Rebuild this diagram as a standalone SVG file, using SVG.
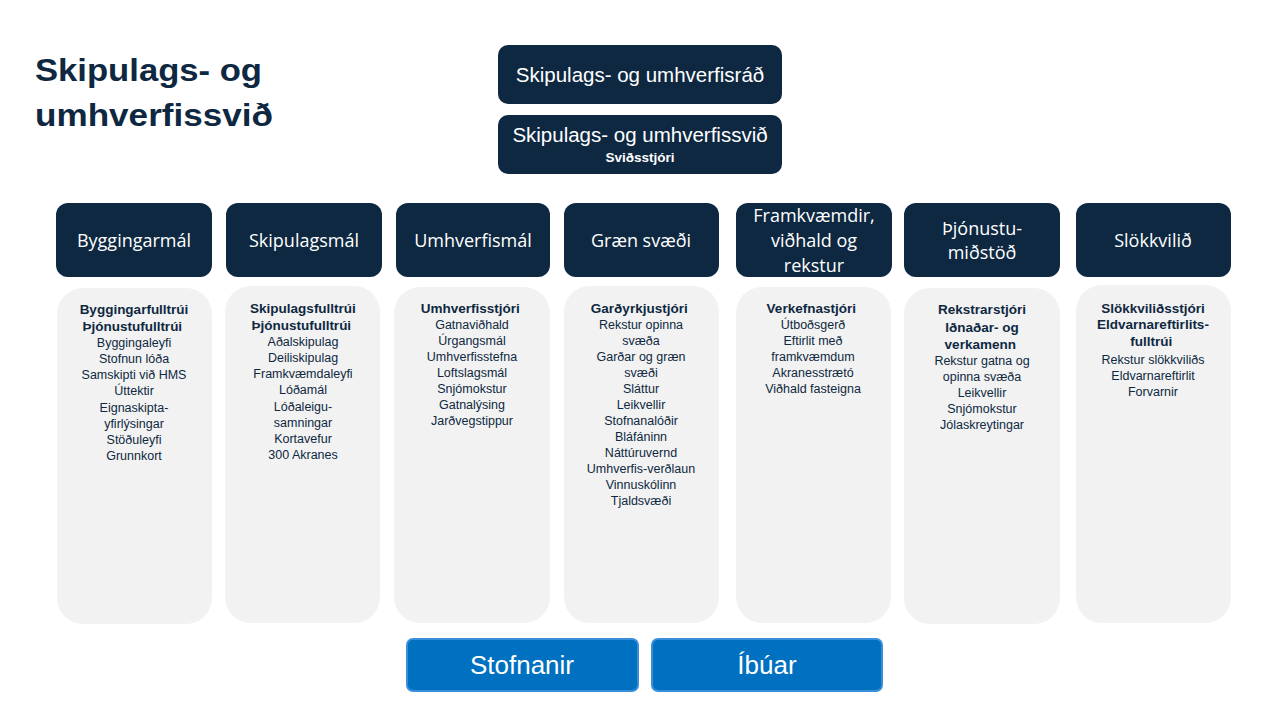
<svg xmlns="http://www.w3.org/2000/svg" width="1280" height="720" viewBox="0 0 1280 720">
<style>
text{font-family:"Liberation Sans",Arial,sans-serif;}
.title{font-size:32px;font-weight:bold;fill:#0E2841;}
.dk{fill:#0E2841;}
.hd{fill:#FFFFFF;font-size:18px;text-anchor:middle;font-family:"Open Sans","Liberation Sans",sans-serif;}
.top{fill:#FFFFFF;font-size:20.5px;text-anchor:middle;}
.gb{fill:#F2F2F2;}
.t{fill:#0E2841;font-size:12.5px;text-anchor:middle;}
.b{font-weight:bold;font-size:13.5px;}
.btn{fill:#0070C0;stroke:#3A8FDA;stroke-width:2;}
.bt{fill:#FFFFFF;font-size:26px;text-anchor:middle;}
</style>
<rect width="1280" height="720" fill="#FFFFFF"/>
<g id="title">
<text class="title" x="35" y="81" textLength="227" lengthAdjust="spacingAndGlyphs">Skipulags- og</text>
<text class="title" x="35" y="126" textLength="238" lengthAdjust="spacingAndGlyphs">umhverfissvið</text>
</g>
<g id="connectors"></g>
<g id="rad">
<rect class="dk" x="498" y="45" width="284" height="59" rx="10"/>
<text class="top" x="640" y="82">Skipulags- og umhverfisráð</text>
</g>
<g id="svid">
<rect class="dk" x="498" y="115" width="284" height="59" rx="10"/>
<text class="top" x="640" y="142">Skipulags- og umhverfissvið</text>
<text x="640" y="162" fill="#FFFFFF" font-size="13.5" font-weight="bold" text-anchor="middle">Sviðsstjóri</text>
</g>
<g id="h1"><rect class="dk" x="56" y="203" width="156" height="74" rx="12"/><text class="hd" x="134" y="247">Byggingarmál</text></g>
<g id="h2"><rect class="dk" x="226" y="203" width="156" height="74" rx="12"/><text class="hd" x="304" y="247">Skipulagsmál</text></g>
<g id="h3"><rect class="dk" x="396" y="203" width="154" height="74" rx="12"/><text class="hd" x="473" y="247">Umhverfismál</text></g>
<g id="h4"><rect class="dk" x="564" y="203" width="155" height="74" rx="12"/><text class="hd" x="641" y="247">Græn svæði</text></g>
<g id="h5"><rect class="dk" x="736" y="203" width="156" height="74" rx="12"/>
<text class="hd" x="814" y="222">Framkvæmdir,</text><text class="hd" x="814" y="247">viðhald og</text><text class="hd" x="814" y="272">rekstur</text></g>
<g id="h6"><rect class="dk" x="904" y="203" width="156" height="74" rx="12"/>
<text class="hd" x="982" y="235">Þjónustu-</text><text class="hd" x="982" y="259">miðstöð</text></g>
<g id="h7"><rect class="dk" x="1076" y="203" width="155" height="74" rx="12"/><text class="hd" x="1153" y="247">Slökkvilið</text></g>

<g id="c1"><rect class="gb" x="57" y="288" width="155" height="336" rx="26"/>
<text class="t"><tspan class="b" x="134" y="314">Byggingarfulltrúi</tspan><tspan class="b" x="134" y="331">Þjónustufulltrúi</tspan>
<tspan x="134" y="347">Byggingaleyfi</tspan><tspan x="134" y="363">Stofnun lóða</tspan><tspan x="134" y="379">Samskipti við HMS</tspan><tspan x="134" y="395">Úttektir</tspan><tspan x="134" y="412">Eignaskipta-</tspan><tspan x="134" y="428">yfirlýsingar</tspan><tspan x="134" y="444">Stöðuleyfi</tspan><tspan x="134" y="460">Grunnkort</tspan></text></g>

<g id="c2"><rect class="gb" x="225" y="286" width="155" height="337" rx="26"/>
<text class="t"><tspan class="b" x="303" y="313">Skipulagsfulltrúi</tspan><tspan class="b" x="303" y="330">Þjónustufulltrúi</tspan>
<tspan x="303" y="346">Aðalskipulag</tspan><tspan x="303" y="362">Deiliskipulag</tspan><tspan x="303" y="378">Framkvæmdaleyfi</tspan><tspan x="303" y="394">Lóðamál</tspan><tspan x="303" y="411">Lóðaleigu-</tspan><tspan x="303" y="427">samningar</tspan><tspan x="303" y="443">Kortavefur</tspan><tspan x="303" y="459">300 Akranes</tspan></text></g>

<g id="c3"><rect class="gb" x="394" y="287" width="156" height="336" rx="26"/>
<text class="t"><tspan class="b" x="472" y="313">Umhverfisstjóri</tspan>
<tspan x="472" y="329">Gatnaviðhald</tspan><tspan x="472" y="345">Úrgangsmál</tspan><tspan x="472" y="361">Umhverfisstefna</tspan><tspan x="472" y="377">Loftslagsmál</tspan><tspan x="472" y="393">Snjómokstur</tspan><tspan x="472" y="409">Gatnalýsing</tspan><tspan x="472" y="425">Jarðvegstippur</tspan></text></g>

<g id="c4"><rect class="gb" x="564" y="286" width="155" height="337" rx="26"/>
<text class="t"><tspan class="b" x="641" y="313">Garðyrkjustjóri</tspan>
<tspan x="641" y="329">Rekstur opinna</tspan><tspan x="641" y="345">svæða</tspan><tspan x="641" y="361">Garðar og græn</tspan><tspan x="641" y="377">svæði</tspan><tspan x="641" y="393">Sláttur</tspan><tspan x="641" y="409">Leikvellir</tspan><tspan x="641" y="425">Stofnanalóðir</tspan><tspan x="641" y="441">Bláfáninn</tspan><tspan x="641" y="457">Náttúruvernd</tspan><tspan x="641" y="473">Umhverfis-verðlaun</tspan><tspan x="641" y="489">Vinnuskólinn</tspan><tspan x="641" y="505">Tjaldsvæði</tspan></text></g>

<g id="c5"><rect class="gb" x="736" y="287" width="155" height="336" rx="26"/>
<text class="t"><tspan class="b" x="813" y="313">Verkefnastjóri</tspan>
<tspan x="813" y="329">Útboðsgerð</tspan><tspan x="813" y="345">Eftirlit með</tspan><tspan x="813" y="361">framkvæmdum</tspan><tspan x="813" y="377">Akranesstrætó</tspan><tspan x="813" y="393">Viðhald fasteigna</tspan></text></g>

<g id="c6"><rect class="gb" x="904" y="288" width="156" height="336" rx="26"/>
<text class="t"><tspan class="b" x="982" y="314">Rekstrarstjóri</tspan><tspan class="b" x="982" y="332">Iðnaðar- og</tspan><tspan class="b" x="982" y="349">verkamenn</tspan>
<tspan x="982" y="365">Rekstur gatna og</tspan><tspan x="982" y="381">opinna svæða</tspan><tspan x="982" y="397">Leikvellir</tspan><tspan x="982" y="413">Snjómokstur</tspan><tspan x="982" y="429">Jólaskreytingar</tspan></text></g>

<g id="c7"><rect class="gb" x="1076" y="285" width="155" height="338" rx="26"/>
<text class="t"><tspan class="b" x="1153" y="313">Slökkviliðsstjóri</tspan><tspan class="b" x="1153" y="329">Eldvarnareftirlits-</tspan><tspan class="b" x="1153" y="346">fulltrúi</tspan>
<tspan x="1153" y="364">Rekstur slökkviliðs</tspan><tspan x="1153" y="380">Eldvarnareftirlit</tspan><tspan x="1153" y="396">Forvarnir</tspan></text></g>

<g id="stofnanir"><rect class="btn" x="407" y="639" width="231" height="52" rx="6"/><text class="bt" x="522" y="674">Stofnanir</text></g>
<g id="ibuar"><rect class="btn" x="652" y="639" width="230" height="52" rx="6"/><text class="bt" x="767" y="674">Íbúar</text></g>
</svg>
